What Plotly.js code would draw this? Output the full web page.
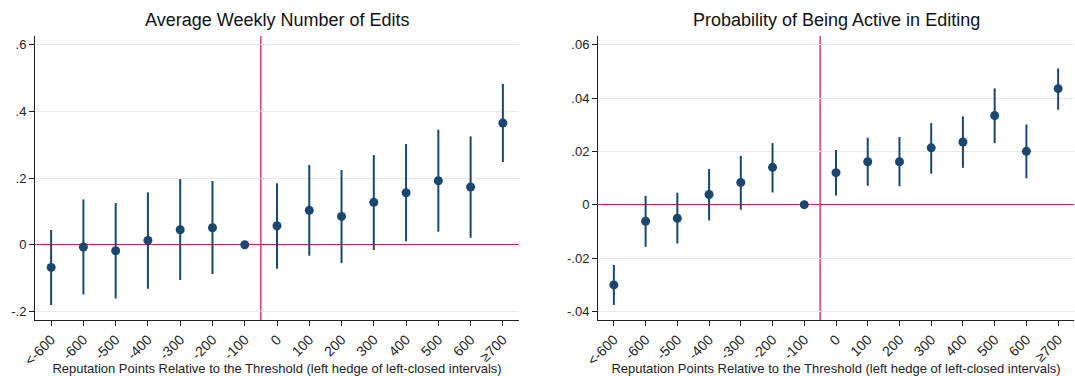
<!DOCTYPE html>
<html><head><meta charset="utf-8">
<script src="https://cdn.plot.ly/plotly-3.0.1.min.js"></script>
<style>html,body{margin:0;padding:0;background:#fff}#chart{width:1075px;height:376px}</style>
</head><body><div id="chart"></div>
<script>
const categories = ["<-600","-600","-500","-400","-300","-200","-100","0","100","200","300","400","500","600","≥700"];

const editsEst = [-0.068,-0.007,-0.018,0.013,0.045,0.051,0,0.057,0.103,0.085,0.127,0.156,0.192,0.173,0.365];
const editsHi  = [0.044,0.136,0.125,0.157,0.197,0.191,0,0.184,0.239,0.224,0.269,0.302,0.345,0.325,0.482];
const editsLo  = [-0.181,-0.149,-0.161,-0.132,-0.106,-0.088,0,-0.072,-0.033,-0.055,-0.016,0.010,0.039,0.021,0.248];

const activeEst = [-0.0301,-0.0062,-0.0051,0.0038,0.0083,0.0140,0,0.0120,0.0161,0.0161,0.0213,0.0235,0.0334,0.0200,0.0435];
const activeHi  = [-0.0226,0.0033,0.0045,0.0134,0.0183,0.0231,0,0.0205,0.0251,0.0254,0.0306,0.0331,0.0436,0.0301,0.0511];
const activeLo  = [-0.0376,-0.0158,-0.0146,-0.0059,-0.0019,0.0046,0,0.0034,0.0071,0.0069,0.0116,0.0138,0.0231,0.0099,0.0356];

const editsTickVals = [-0.2,0,0.2,0.4,0.6];
const editsTickText = ["-.2","0",".2",".4",".6"];
const activeTickVals = [-0.04,-0.02,0,0.02,0.04,0.06];
const activeTickText = ["-.04","-.02","0",".02",".04",".06"];

const NAVY = "#1a476f", RED = "#d5204c";
const idx = categories.map((_, i) => i);

function trace(est, hi, lo, xa, ya) {
  return {
    x: idx, y: est, xaxis: xa, yaxis: ya, type: "scatter", mode: "markers",
    marker: {color: NAVY, size: 9},
    error_y: {type: "data", symmetric: false,
      array: hi.map((h, i) => h - est[i]),
      arrayminus: lo.map((l, i) => est[i] - l),
      color: NAVY, thickness: 2, width: 0},
    showlegend: false, hoverinfo: "skip"
  };
}

const font = {family: "Liberation Sans, Arial, sans-serif", color: "#222"};
function xaxis(domain, anchor) {
  return {domain: domain, anchor: anchor, range: [-0.5, 14.5],
    tickmode: "array", tickvals: idx, ticktext: categories, tickangle: -45,
    tickfont: {size: 14, family: font.family, color: "#222"},
    ticks: "outside", ticklen: 5, tickcolor: "#222",
    showline: true, linecolor: "#222", linewidth: 1, showgrid: false, zeroline: false,
    title: {text: "Reputation Points Relative to the Threshold (left hedge of left-closed intervals)",
      font: {size: 13, family: font.family, color: "#222"}, standoff: 3}};
}
function yaxis(range, vals, text, anchor) {
  return {range: range, anchor: anchor, domain: [0, 1],
    tickmode: "array", tickvals: vals, ticktext: text,
    tickfont: {size: 13, family: font.family, color: "#222"},
    ticks: "outside", ticklen: 5, tickcolor: "#222",
    showline: true, linecolor: "#222", linewidth: 1,
    showgrid: true, gridcolor: "#e8e8e8", gridwidth: 1,
    zeroline: true, zerolinecolor: RED, zerolinewidth: 1.3};
}

const layout = {
  width: 1075, height: 376, paper_bgcolor: "#fff", plot_bgcolor: "#fff",
  margin: {l: 0, r: 0, t: 36, b: 56}, font: font,
  xaxis: xaxis([35/1075, 519/1075], "y"),
  yaxis: yaxis([-0.2258, 0.626], editsTickVals, editsTickText, "x"),
  xaxis2: xaxis([598/1075, 1074/1075], "y2"),
  yaxis2: yaxis([-0.04325, 0.06325], activeTickVals, activeTickText, "x2"),
  shapes: [
    {type: "line", xref: "x", yref: "y domain", x0: 6.5, x1: 6.5, y0: 0, y1: 1, line: {color: RED, width: 1.3}, layer: "below"},
    {type: "line", xref: "x2", yref: "y2 domain", x0: 6.5, x1: 6.5, y0: 0, y1: 1, line: {color: RED, width: 1.3}, layer: "below"}
  ],
  annotations: [
    {text: "Average Weekly Number of Edits", xref: "paper", yref: "paper", x: 277/1075, y: 1 + 16/284, yanchor: "middle", xanchor: "center", showarrow: false, font: {size: 18, family: font.family, color: "#111"}},
    {text: "Probability of Being Active in Editing", xref: "paper", yref: "paper", x: 836/1075, y: 1 + 16/284, yanchor: "middle", xanchor: "center", showarrow: false, font: {size: 18, family: font.family, color: "#111"}}
  ]
};

Plotly.newPlot("chart", [
  trace(editsEst, editsHi, editsLo, "x", "y"),
  trace(activeEst, activeHi, activeLo, "x2", "y2")
], layout, {staticPlot: true, displayModeBar: false});
</script></body></html>
